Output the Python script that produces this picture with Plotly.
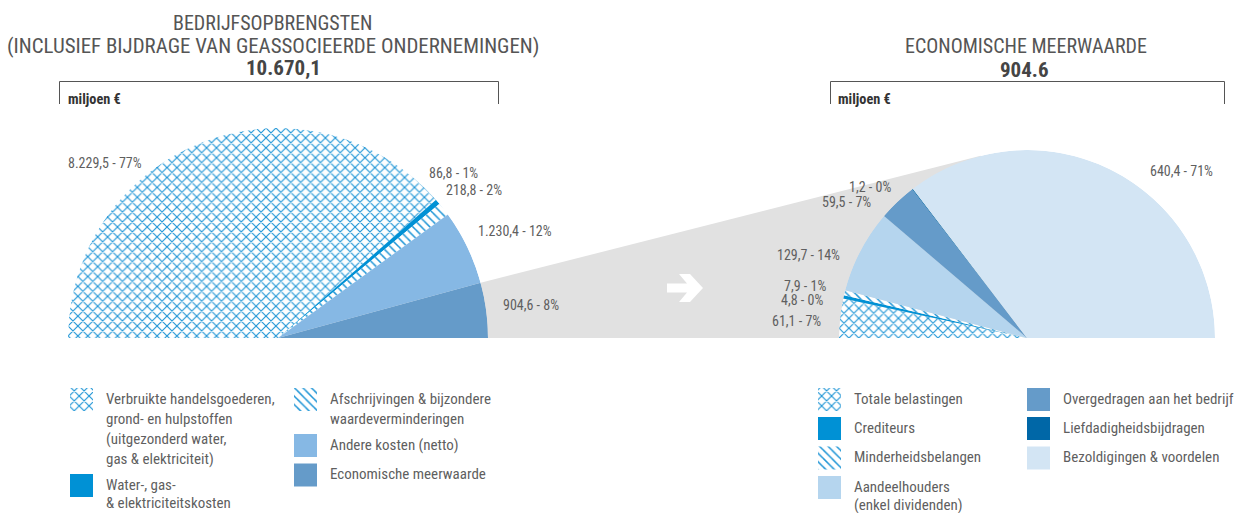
import math
import plotly.graph_objects as go

W, H = 1246, 513

# ---- data (million €) ----
rev_labels = [
    "Verbruikte handelsgoederen,<br>grond- en hulpstoffen<br>(uitgezonderd water,<br>gas & elektriciteit)",
    "Water-, gas-<br>& elektriciteitskosten",
    "Afschrijvingen & bijzondere<br>waardeverminderingen",
    "Andere kosten (netto)",
    "Economische meerwaarde",
]
rev_values = [8229.5, 86.8, 218.8, 1230.4, 904.6]
rev_pct = [77, 1, 2, 12, 8]

ev_labels = [
    "Totale belastingen",
    "Crediteurs",
    "Minderheidsbelangen",
    "Aandeelhouders<br>(enkel dividenden)",
    "Overgedragen aan het bedrijf",
    "Liefdadigheidsbijdragen",
    "Bezoldigingen & voordelen",
]
ev_values = [61.1, 4.8, 7.9, 129.7, 59.5, 1.2, 640.4]
ev_pct = [7, 0, 1, 14, 7, 0, 71]

rev_title = ["BEDRIJFSOPBRENGSTEN", "(INCLUSIEF BIJDRAGE VAN GEASSOCIEERDE ONDERNEMINGEN)", "10.670,1"]
ev_title = ["ECONOMISCHE MEERWAARDE", "904.6"]
unit_text = "miljoen €"

# ---- styles ----
FONT = "Liberation Sans Narrow, Arial Narrow, Roboto Condensed, DejaVu Sans Condensed, sans-serif"
TXT = "#5f5f5f"
HATCH = "#1E95D6"
GREY = "#E1E1E1"

STYLE = {
    "cross": dict(color="white", pattern=dict(shape="x", fgcolor=HATCH, bgcolor="white", size=7, solidity=0.3, fillmode="replace")),
    "diag": dict(color="white", pattern=dict(shape="\\", fgcolor=HATCH, bgcolor="white", size=6, solidity=0.25, fillmode="replace")),
}
rev_styles = ["cross", "#0091D5", "diag", "#86B8E4", "#659BC9"]
ev_styles = ["cross", "#0091D5", "diag", "#B5D5EE", "#659BC9", "#0067A7", "#D3E5F4"]


def marker_for(style):
    if style in STYLE:
        m = dict(STYLE[style])
    else:
        m = dict(color=style)
    m["line"] = dict(width=0)
    return m


def nl_number(v):
    s = f"{v:,.1f}"
    return s.replace(",", "#").replace(".", ",").replace("#", ".")


# pie geometry (pixels): centre and radius of each half pie
L_CX, L_CY, L_R = 278.0, 338.0, 210.0
R_CX, R_CY, R_R = 1027.0, 338.0, 188.0


def domain(cx, cy, r):
    return dict(x=[(cx - r) / W, (cx + r) / W], y=[1 - cy / H, 1 - (cy - r) / H])


fig = go.Figure()


def add_half_pie(values, styles, labels, polar):
    total = sum(values)
    start = 0.0
    for v, st, lab in zip(values, styles, labels):
        span = v / total * 180.0
        fig.add_trace(go.Barpolar(
            r=[1], theta=[start + span / 2], width=[span],
            marker=marker_for(st), name=lab.replace("<br>", " "),
            subplot=polar, showlegend=False, hoverinfo="skip",
        ))
        start += span


# grey connector from the "Economische meerwaarde" slice to the right half pie
total_rev = sum(rev_values)
start_deg = sum(rev_values[:-1]) / total_rev * 180.0
phi = math.radians(180.0 - start_deg)
P = (L_CX + L_R * math.cos(phi), L_CY - L_R * math.sin(phi))
B = (L_CX + L_R, L_CY)
dx, dy = P[0] - R_CX, R_CY - P[1]
d = math.hypot(dx, dy)
phi_t = math.atan2(dy, dx) - math.acos(R_R / d)
T = (R_CX + R_R * math.cos(phi_t), R_CY - R_R * math.sin(phi_t))
fig.add_trace(go.Scatter(
    x=[P[0], T[0], R_CX, B[0], P[0]], y=[P[1], T[1], R_CY, B[1], P[1]],
    mode="lines", fill="toself", fillcolor=GREY, line=dict(width=0),
    hoverinfo="skip", showlegend=False,
))

add_half_pie(rev_values, rev_styles, rev_labels, "polar")
add_half_pie(ev_values, ev_styles, ev_labels, "polar2")

annotations = []


def text(x, y, s, size=13, color=TXT, xanchor="left", bold=False, yanchor="middle"):
    if bold:
        s = f"<b>{s}</b>"
    annotations.append(dict(
        x=x, y=y, xref="x", yref="y", text=s, showarrow=False,
        xanchor=xanchor, yanchor=yanchor, align="left",
        font=dict(family=FONT, size=size, color=color),
    ))


# slice value labels
rev_label_pos = [(66, 163), (427, 173), (444, 190), (476, 231), (501, 305)]
ev_label_pos = [(770, 321), (779, 300), (782, 286), (775, 255), (820, 202), (847, 187), (1148, 171)]
for v, p, pos in zip(rev_values, rev_pct, rev_label_pos):
    text(pos[0], pos[1], f"{nl_number(v)} - {p}%", size=14)
for v, p, pos in zip(ev_values, ev_pct, ev_label_pos):
    text(pos[0], pos[1], f"{nl_number(v)} - {p}%", size=14)

# titles
TITLE_C = "#555555"
text(272, 23, rev_title[0], size=20, color=TITLE_C, xanchor="center")
text(272.5, 46, rev_title[1], size=20.9, color=TITLE_C, xanchor="center")
text(283, 67.5, rev_title[2], size=21, color="#454545", xanchor="center", bold=True)
text(1026, 46, ev_title[0], size=20, color=TITLE_C, xanchor="center")
text(1024, 70, ev_title[1], size=21, color="#454545", xanchor="center", bold=True)
text(66, 99, unit_text, size=14.3, color="#333333", bold=True)
text(836, 99, unit_text, size=14.3, color="#333333", bold=True)

shapes = [
    dict(type="path", xref="x", yref="y", path="M 59.5,104 V 81.5 H 498.5 V 104",
         line=dict(color="#555555", width=1)),
    dict(type="path", xref="x", yref="y", path="M 830.5,104 V 81.5 H 1224.5 V 104",
         line=dict(color="#555555", width=1)),
]

# white arrow on the connector
ax, ay = 685, 288
arrow = [(-18, -4.5), (2, -4.5), (-6, -14), (5, -14), (18, 0), (5, 14), (-6, 14), (2, 4.5), (-18, 4.5)]
shapes.append(dict(
    type="path", xref="x", yref="y", layer="above",
    path="M " + " L ".join(f"{ax + a},{ay + b}" for a, b in arrow) + " Z",
    fillcolor="white", line=dict(width=0),
))

# legends: swatch (x, top-y) and line spacing per entry
SW = 23
rev_leg_pos = [(70, 388, 20), (70, 474, 18.5), (294, 388, 20), (294, 434, 20), (294, 463.5, 20)]
ev_leg_pos = [(818, 388, 19), (818, 417, 19), (818, 446.5, 19), (818, 476, 18.3),
              (1027, 388, 19), (1027, 417, 19), (1027, 446.5, 19)]
LEG_SIZE = 15


def add_legend(labels, styles, positions):
    for lab, st, (x0, y0, lh) in zip(labels, styles, positions):
        xs = [x0, x0 + SW, x0 + SW, x0, x0]
        ys = [y0, y0, y0 + SW, y0 + SW, y0]
        if st in STYLE:
            fig.add_trace(go.Scatter(
                x=xs, y=ys, mode="lines", fill="toself", fillcolor="white",
                fillpattern=STYLE[st]["pattern"], line=dict(width=0),
                hoverinfo="skip", showlegend=False,
            ))
        else:
            fig.add_trace(go.Scatter(
                x=xs, y=ys, mode="lines", fill="toself", fillcolor=st,
                line=dict(width=0), hoverinfo="skip", showlegend=False,
            ))
        for i, line in enumerate(lab.split("<br>")):
            text(x0 + 33.5, y0 + 10.6 + i * lh, line, size=LEG_SIZE)


add_legend(rev_labels, rev_styles, rev_leg_pos)
add_legend(ev_labels, ev_styles, ev_leg_pos)

hidden_ang = dict(visible=False, rotation=180, direction="clockwise", showgrid=False)
hidden_rad = dict(visible=False, range=[0, 1], showgrid=False)

fig.update_layout(
    width=W, height=H, margin=dict(l=0, r=0, t=0, b=0),
    paper_bgcolor="white", plot_bgcolor="white", showlegend=False,
    xaxis=dict(domain=[0, 1], range=[0, W], visible=False, fixedrange=True),
    yaxis=dict(domain=[0, 1], range=[H, 0], visible=False, fixedrange=True),
    polar=dict(domain=domain(L_CX, L_CY, L_R), sector=[0, 180], bgcolor="rgba(0,0,0,0)",
               bargap=0, angularaxis=hidden_ang, radialaxis=hidden_rad),
    polar2=dict(domain=domain(R_CX, R_CY, R_R), sector=[0, 180], bgcolor="rgba(0,0,0,0)",
                bargap=0, angularaxis=hidden_ang, radialaxis=hidden_rad),
    annotations=annotations, shapes=shapes,
)

fig.write_html("out.html")
